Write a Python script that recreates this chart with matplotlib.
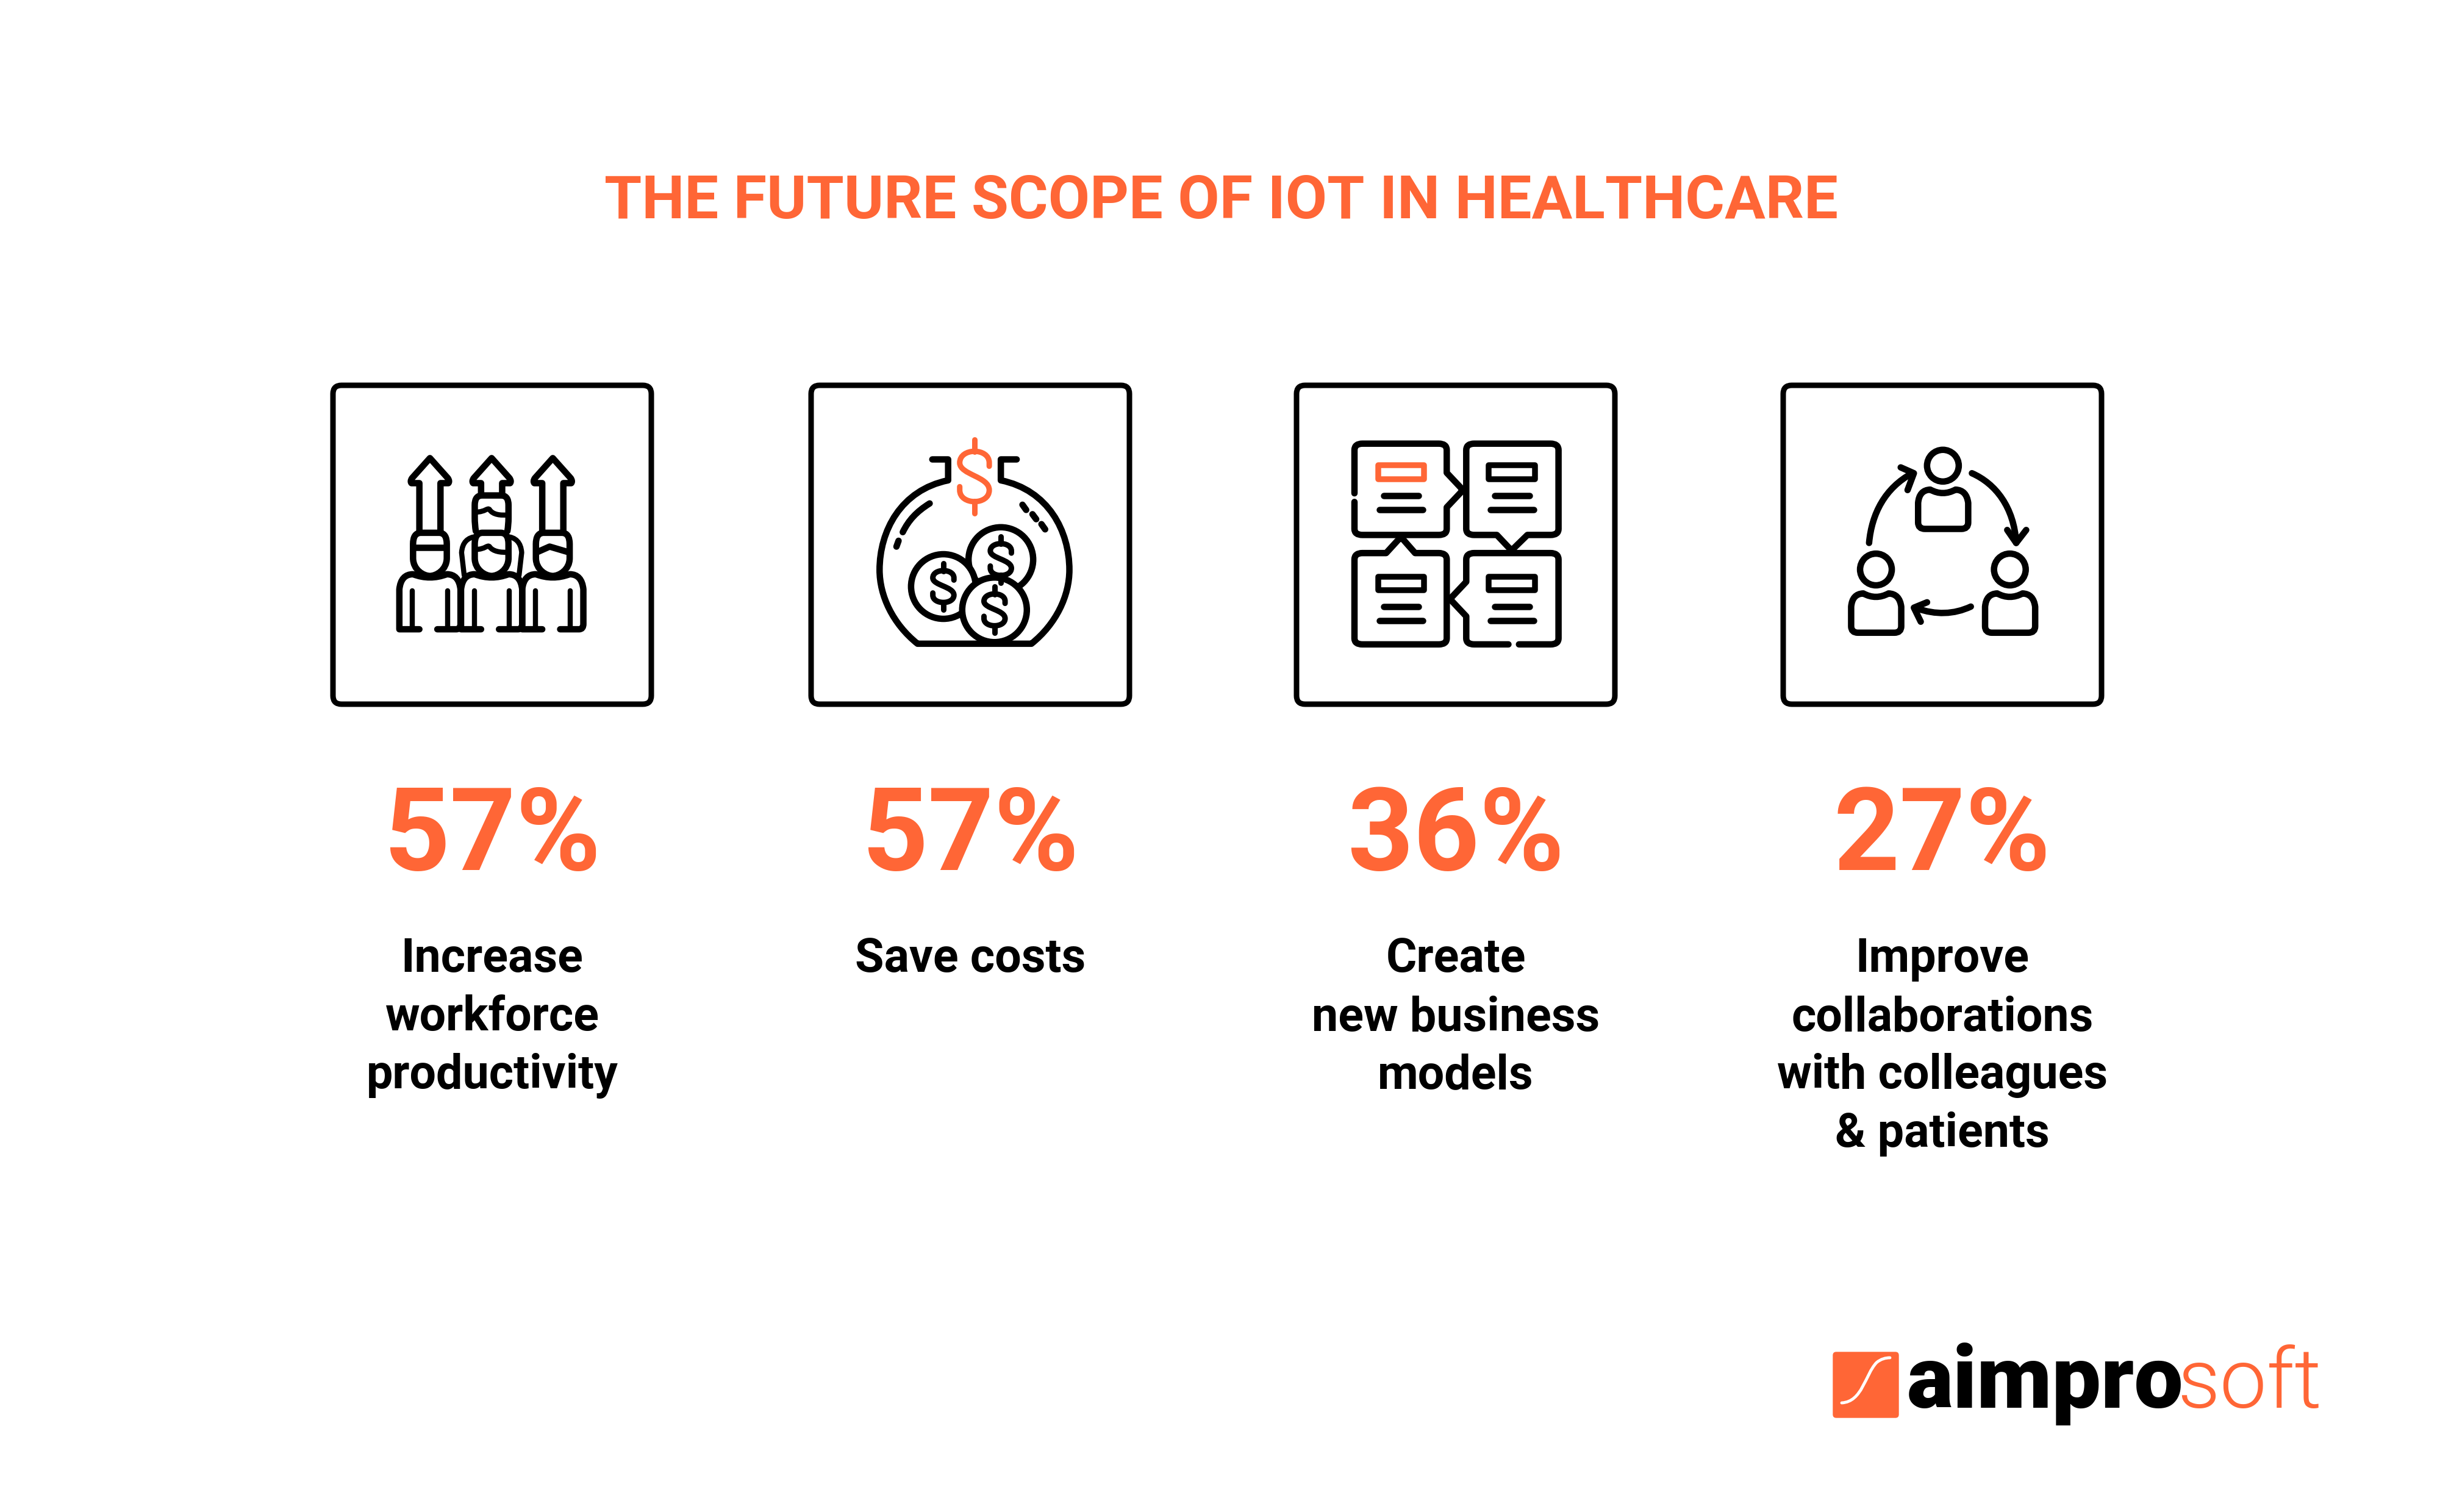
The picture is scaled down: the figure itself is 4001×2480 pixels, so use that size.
import matplotlib
matplotlib.use("Agg")
import matplotlib.pyplot as plt
from matplotlib.path import Path
from matplotlib.patches import PathPatch, FancyBboxPatch, Circle

title = "THE FUTURE SCOPE OF IOT IN HEALTHCARE"
percent_values = [57, 57, 36, 27]
captions = [
    "Increase\nworkforce\nproductivity",
    "Save costs",
    "Create\nnew business\nmodels",
    "Improve\ncollaborations\nwith colleagues\n& patients",
]
logo_dark = "aimpro"
logo_light = "soft"

ORANGE = "#FF6636"
BLACK = "#000000"
W, H = 4001, 2480
LW = 10.5 * 72 / 100
COLS = [807, 1591, 2387, 3185]

fig = plt.figure(figsize=(W / 100, H / 100), dpi=100, facecolor="white")
ax = fig.add_axes([0, 0, 1, 1])
ax.set_xlim(0, W)
ax.set_ylim(H, 0)
ax.axis("off")


def mapper(cx_zoom, cx_px):
    return lambda x, y: (cx_px + (x - cx_zoom) * 0.8646, 893 + (y - 762) * 0.354)


def draw(d, m, color=BLACK, lw=LW, fill="none", z=3):
    toks = d.replace(",", " ").split()
    verts, codes = [], []
    i = 0
    n_pts = {"M": (1, Path.MOVETO), "L": (1, Path.LINETO), "Q": (2, Path.CURVE3), "C": (3, Path.CURVE4)}
    while i < len(toks):
        t = toks[i]
        if t == "Z":
            verts.append(verts[-1])
            codes.append(Path.CLOSEPOLY)
            i += 1
            continue
        n, c = n_pts[t]
        i += 1
        for _ in range(n):
            verts.append(m(float(toks[i]), float(toks[i + 1])))
            codes.append(c)
            i += 2
    ax.add_patch(PathPatch(Path(verts, codes), facecolor=fill, edgecolor=color, lw=lw,
                           capstyle="round", joinstyle="round", zorder=z))


def shift(m, dx, dy):
    return lambda x, y: m(x + dx, y + dy)


def dollar(m, color=BLACK, lw=9 * 72 / 100, z=3):
    draw("M 20 -30 L 20 -40 C 20 -85 -20 -85 -20 -40 C -20 -5 20 0 20 40 C 20 85 -20 85 -20 40 L -20 30", m, color, lw, z=z)
    draw("M 0 -108 L 0 -72 M 0 72 L 0 108", m, color, lw, z=z)


# boxes
for cx in COLS:
    ax.add_patch(FancyBboxPatch((cx - 261, 632), 522, 523,
                                boxstyle="round,pad=0,rounding_size=14",
                                facecolor="white", edgecolor=BLACK, lw=9 * 72 / 100, zorder=2))

# icon 1: people and arrows
m1 = mapper(321, COLS[0])
for dx, kind in zip([-118, -1, 115], ["band", "wave", "chev"]):
    m = shift(m1, dx, 0)
    x = 321
    if kind == "wave":
        draw(f"M {x-20} 530 L {x-20} 478 L {x-35} 478 Q {x-38} 470 {x-34} 455 L {x} 362 L {x+34} 455 Q {x+38} 470 {x+35} 478 L {x+20} 478 L {x+20} 530", m)
        draw(f"M {x-30} 700 Q {x-32} 670 {x-32} 640 L {x-32} 580 Q {x-32} 535 {x-18} 535 L {x+18} 535 Q {x+32} 535 {x+32} 580 L {x+32} 640 Q {x+32} 670 {x+30} 700", m)
        draw(f"M {x-30} 612 C {x-12} 612 {x-8} 590 {x-4} 600 C {x+2} 625 {x+18} 628 {x+30} 625", m, lw=LW * .8)
    else:
        draw(f"M {x-20} 700 L {x-20} 478 L {x-35} 478 Q {x-38} 470 {x-34} 455 L {x} 362 L {x+34} 455 Q {x+38} 470 {x+35} 478 L {x+20} 478 L {x+20} 700", m)
    # head
    draw(f"M {x-32} 760 Q {x-32} 710 {x-18} 708 L {x+18} 708 Q {x+32} 710 {x+32} 760 L {x+32} 825 C {x+32} 880 {x+12} 908 {x} 908 C {x-12} 908 {x-32} 880 {x-32} 825 Z", m)
    if kind == "band":
        draw(f"M {x-30} 775 L {x+30} 775", m)
    elif kind == "wave":
        draw(f"M {x-30} 785 C {x-12} 785 {x-8} 762 {x-4} 772 C {x+2} 795 {x+18} 800 {x+30} 798", m, lw=LW * .8)
        draw(f"M {x-52} 905 L {x-57} 800 Q {x-55} 730 {x-28} 725 M {x+52} 905 L {x+57} 800 Q {x+55} 730 {x+28} 725", m, lw=LW * .8)
    else:
        draw(f"M {x-30} 798 L {x-6} 772 L {x+30} 798", m)
    # body
    draw(f"M {x-20} 1155 L {x-58} 1155 Q {x-58} 1150 {x-58} 1130 L {x-58} 970 Q {x-55} 900 {x-32} 900 Q {x} 930 {x+32} 900 Q {x+55} 900 {x+58} 970 L {x+58} 1130 Q {x+58} 1155 {x+50} 1155 L {x+14} 1155", m)
    draw(f"M {x-33} 978 L {x-33} 1155 M {x+33} 978 L {x+33} 1155", m, lw=LW * .8)

# icon 2: jar and coins
m2 = mapper(1232, COLS[1])
draw("M 1160 368 L 1190 368 L 1190 465 C 1100 510 1060 700 1060 880 C 1060 1000 1085 1130 1132 1222 L 1348 1222 C 1395 1130 1420 1000 1420 880 C 1420 700 1380 510 1290 465 L 1290 368 L 1320 368", m2)
draw("M 1155 572 C 1130 610 1115 650 1104 705 M 1096 745 L 1092 772", m2)
draw("M 1331 578 L 1338 602 M 1350 622 L 1357 645 M 1367 668 L 1374 692", m2)
for cxz, cyz in [(1290, 832), (1181, 957), (1278, 1065)]:
    cx, cy = m2(cxz, cyz)
    ax.add_patch(Circle((cx, cy), 53, facecolor="white", edgecolor=BLACK, lw=LW, zorder=4))
    dollar(shift(m2, cxz, cyz), z=5)
dollar(lambda x, y: m2(1240 + x * 1.4, 447 + y * 1.58), color=ORANGE, lw=9 * 72 / 100, z=3)

# icon 3: speech bubbles
m3 = mapper(322, COLS[2])
draw("M 130 525 L 130 325 Q 130 295 145 295 L 290 295 Q 305 295 305 325 L 305 430 L 332 500 Q 335 510 332 520 L 305 590 L 305 690 Q 305 718 290 718 L 145 718 Q 130 718 130 690 L 130 565", m3)
draw("M 342 325 Q 342 295 357 295 L 502 295 Q 517 295 517 325 L 517 690 Q 517 718 502 718 L 458 718 L 432 780 Q 428 790 424 780 L 400 718 L 357 718 Q 342 718 342 690 Z", m3)
draw("M 130 832 Q 130 802 145 802 L 190 802 L 214 738 Q 218 728 222 738 L 245 802 L 290 802 Q 305 802 305 832 L 305 1197 Q 305 1225 290 1225 L 145 1225 Q 130 1225 130 1197 Z", m3)
draw("M 422 1225 L 357 1225 Q 342 1225 342 1197 L 342 1095 L 315 1025 Q 312 1015 315 1005 L 342 935 L 342 832 Q 342 802 357 802 L 502 802 Q 517 802 517 832 L 517 1197 Q 517 1225 502 1225 L 442 1225", m3)
for dx, dy, col in [(0, 0, ORANGE), (210, 0, BLACK), (0, 515, BLACK), (210, 515, BLACK)]:
    m = shift(m3, dx, dy)
    draw("M 175 396 L 262 396 L 262 460 L 175 460 Z", m, col, 9.5 * 72 / 100)
    draw("M 186 536 L 252 536 M 178 600 L 260 600", m)

# icon 4: collaboration
m4 = mapper(1249, COLS[3])
for dx, dy in [(0, 0), (-127, 481), (127, 481)]:
    m = shift(m4, dx, dy)
    cx, cy = m(1250, 397)
    ax.add_patch(Circle((cx, cy), 26, facecolor="none", edgecolor=BLACK, lw=LW, zorder=3))
    draw("M 1203 660 L 1203 570 Q 1205 510 1226 508 Q 1250 540 1274 508 Q 1295 510 1298 570 L 1298 660 Q 1298 690 1285 690 L 1216 690 Q 1203 690 1203 660 Z", m)
draw("M 1110 755 C 1115 620 1140 500 1192 432", m4)
draw("M 1170 405 L 1195 432 L 1183 510", m4)
draw("M 1305 432 C 1350 480 1385 590 1389 755", m4)
draw("M 1372 695 L 1389 755 L 1408 695", m4)
draw("M 1303 1050 Q 1255 1105 1200 1058", m4)
draw("M 1220 1030 L 1195 1055 L 1208 1120", m4)

# text
ax.text(2002, 358, title, color=ORANGE, family="Roboto", weight="bold", fontsize=71.4, ha="center", va="baseline")
for cx, v, cap in zip(COLS, percent_values, captions):
    ax.text(cx, 1427, f"{v}%", color=ORANGE, family="Roboto", weight="bold", fontsize=136, ha="center", va="baseline")
    for i, line in enumerate(cap.split("\n")):
        ax.text(cx, 1594 + i * 95.7, line, color=BLACK, family="Roboto", weight="bold", fontsize=55.5, ha="center", va="baseline")

# logo
ax.add_patch(FancyBboxPatch((3006, 2218), 107, 107, boxstyle="round,pad=0,rounding_size=5",
                            facecolor=ORANGE, edgecolor=ORANGE, lw=1, zorder=3))
mark = Path([(3020, 2301), (3054, 2299), (3058, 2255), (3077, 2235), (3084, 2229), (3092, 2227), (3099, 2227)],
            [Path.MOVETO, Path.CURVE4, Path.CURVE4, Path.CURVE4, Path.CURVE4, Path.CURVE4, Path.CURVE4])
ax.add_patch(PathPatch(mark, facecolor="none", edgecolor="white", lw=3.5, zorder=4, capstyle="round"))
ax.text(3127, 2309, logo_dark, color=BLACK, family="Roboto", weight=900, fontsize=103, ha="left", va="baseline")
ax.text(3570, 2309, logo_light, color=ORANGE, family="Roboto", weight=300, fontsize=99, ha="left", va="baseline")

fig.savefig("out.png", dpi=100, facecolor="white")
